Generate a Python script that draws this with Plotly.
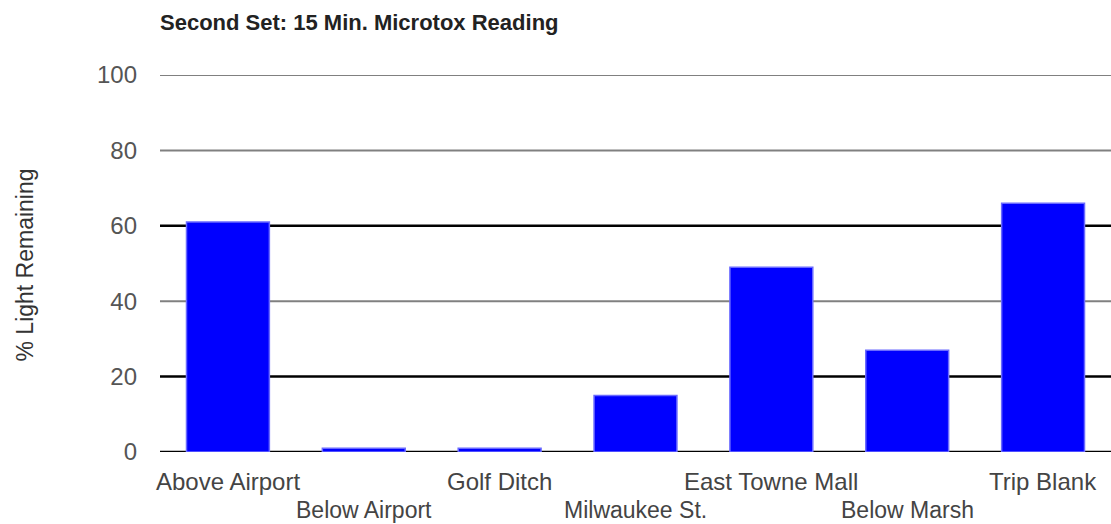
import plotly.graph_objects as go

categories = ["Above Airport", "Below Airport", "Golf Ditch", "Milwaukee St.",
              "East Towne Mall", "Below Marsh", "Trip Blank"]
values = [61, 1, 1, 15, 49, 27, 66]
y_ticks = [0, 20, 40, 60, 80, 100]
black_lines = [0, 20, 60]
gray_lines = [40, 80, 100]

title_text = "Second Set: 15 Min. Microtox Reading"
y_title = "% Light Remaining"

fig = go.Figure()
fig.add_trace(go.Bar(
    x=list(range(len(categories))), y=values, width=0.61,
    marker=dict(color="#0000ff", line=dict(color="#6a6aff", width=1.5)),
    hoverinfo="skip",
))

shapes = []
for v in gray_lines:
    shapes.append(dict(type="line", xref="paper", x0=0, x1=1, yref="y", y0=v, y1=v,
                       line=dict(color="#808080", width=2), layer="below"))
for v in black_lines:
    shapes.append(dict(type="line", xref="paper", x0=0, x1=1, yref="y", y0=v, y1=v,
                       line=dict(color="#000000", width=2.5), layer="below"))

annotations = []
for i, c in enumerate(categories):
    annotations.append(dict(
        x=i, xref="x", y=0, yref="paper", yanchor="middle", xanchor="center",
        yshift=-29 if i % 2 == 0 else -58, text=c, showarrow=False,
        font=dict(family="Liberation Sans, Arial", size=24 if i % 2 == 0 else 23,
                  color="#444444")))
annotations.append(dict(
    x=0, xref="paper", xanchor="left", xshift=-2, y=1, yref="paper", yanchor="middle", yshift=53,
    text="<b>" + title_text + "</b>", showarrow=False,
    font=dict(family="Liberation Sans, Arial", size=22, color="#222222")))
annotations.append(dict(
    x=0, xref="paper", xshift=-136, xanchor="center", y=0.5, yref="paper", yanchor="middle",
    yshift=-2, text=y_title, textangle=-90, showarrow=False,
    font=dict(family="Liberation Sans, Arial", size=23, color="#333333")))

fig.update_layout(
    width=1111, height=524,
    margin=dict(l=160, r=0, t=75, b=72),
    plot_bgcolor="white", paper_bgcolor="white",
    showlegend=False, bargap=0.39,
    shapes=shapes, annotations=annotations,
    xaxis=dict(range=[-0.5, 6.5], showticklabels=False, showgrid=False,
               zeroline=False, showline=False, fixedrange=True),
    yaxis=dict(range=[0, 100], tickvals=y_ticks, showgrid=False, zeroline=False,
               showline=False, ticklabelstandoff=22,
               tickfont=dict(family="Liberation Sans, Arial", size=24, color="#555555"),
               fixedrange=True),
)

fig.write_html("out.html", config={"displayModeBar": False},
               post_script="document.body.style.margin='0';document.body.style.padding='0';")
